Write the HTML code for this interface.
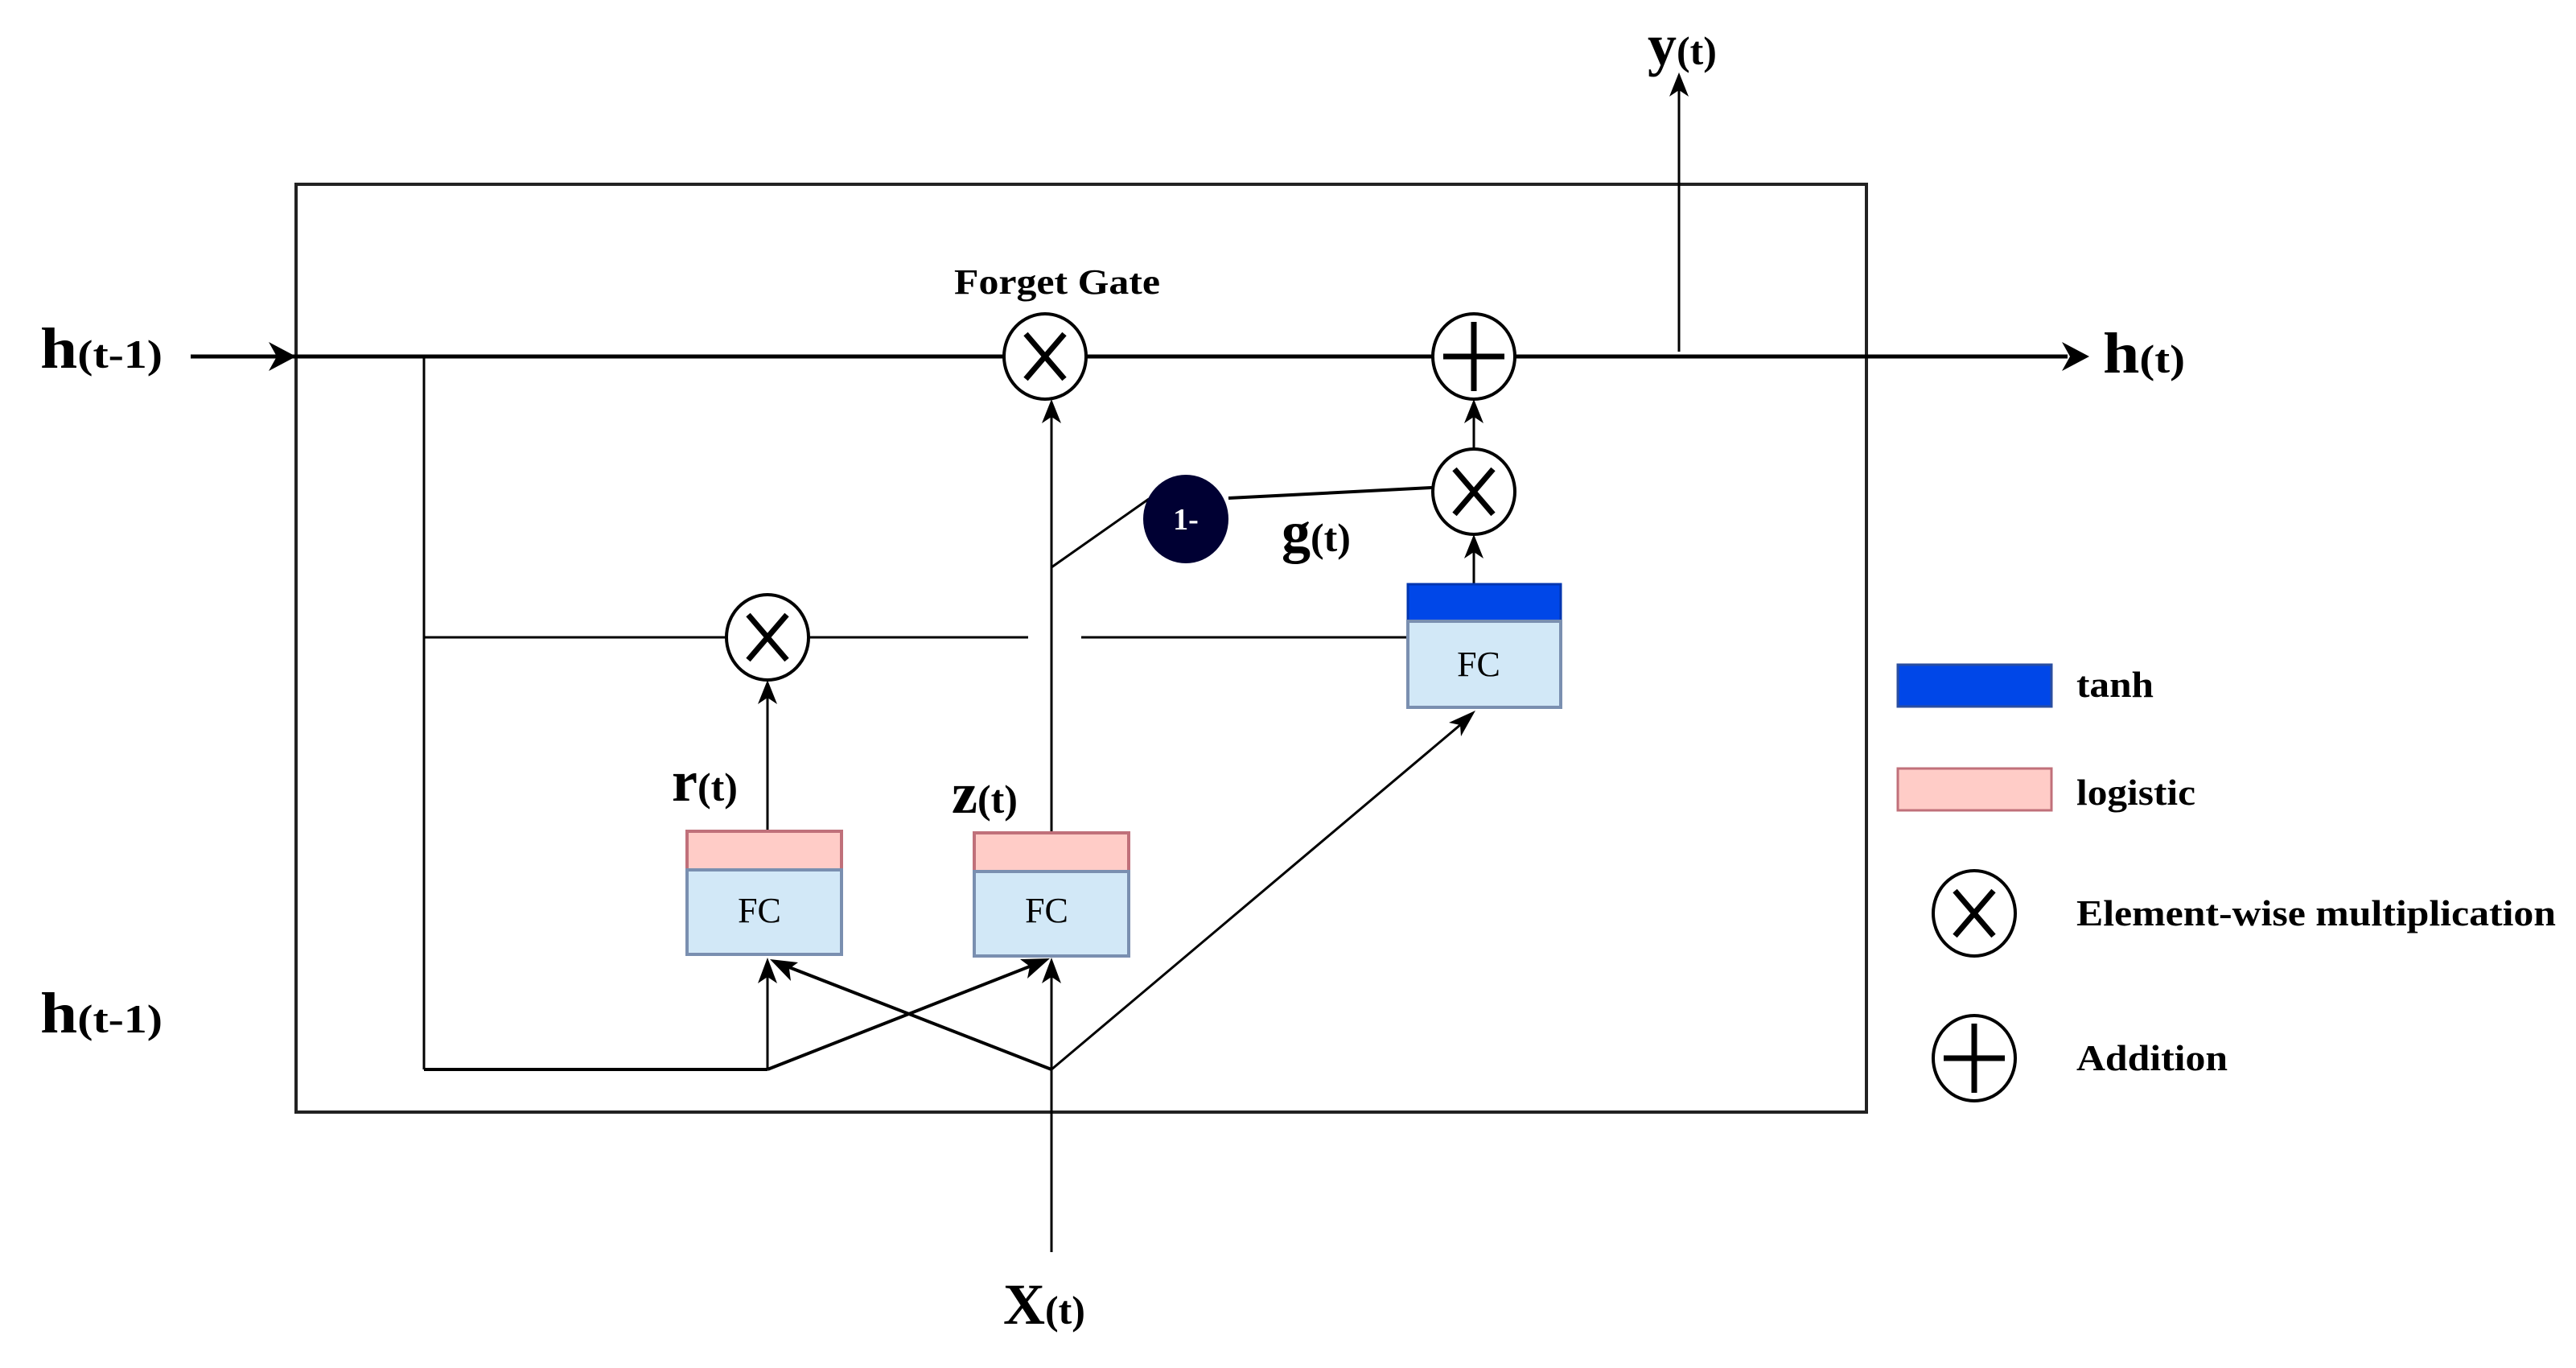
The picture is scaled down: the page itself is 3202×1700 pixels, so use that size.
<!DOCTYPE html>
<html><head><meta charset="utf-8"><style>
html,body{margin:0;padding:0;background:#fff;}
svg{display:block;}
text{font-family:"Liberation Serif",serif;fill:#000;}
.b{font-weight:bold;}
</style></head><body>
<svg width="3202" height="1700" viewBox="0 0 3202 1700" xmlns="http://www.w3.org/2000/svg">
<rect x="368" y="229" width="1952" height="1153" fill="none" stroke="#222" stroke-width="4"/>
<line x1="237" y1="443" x2="2570" y2="443" stroke="#000" stroke-width="5"/>
<polygon points="368,443 334,425 344,443 334,461" fill="#000"/>
<polygon points="2597,443 2563,425 2573,443 2563,461" fill="#000"/>
<line x1="2087" y1="437" x2="2087" y2="110" stroke="#000" stroke-width="3"/>
<polygon points="2087,90 2075,120 2087,112 2099,120" fill="#000"/>
<line x1="527" y1="443" x2="527" y2="1329" stroke="#000" stroke-width="3"/>
<line x1="527" y1="792" x2="1278" y2="792" stroke="#000" stroke-width="3"/>
<line x1="1344" y1="792" x2="1750" y2="792" stroke="#000" stroke-width="3"/>
<line x1="527" y1="1329" x2="954" y2="1329" stroke="#000" stroke-width="4"/>
<line x1="954" y1="1033" x2="954" y2="860" stroke="#000" stroke-width="3"/>
<polygon points="954,845 942,875 954,867 966,875" fill="#000"/>
<line x1="1307" y1="1033" x2="1307" y2="515" stroke="#000" stroke-width="3"/>
<polygon points="1307,496 1295,526 1307,518 1319,526" fill="#000"/>
<line x1="954" y1="1329" x2="954" y2="1205" stroke="#000" stroke-width="3"/>
<polygon points="954,1190 942,1222 954,1214 966,1222" fill="#000"/>
<line x1="954" y1="1329" x2="1290" y2="1197" stroke="#000" stroke-width="4"/>
<polygon points="1305,1191 1268,1192 1280,1201 1277,1216" fill="#000"/>
<line x1="1307" y1="1556" x2="1307" y2="1205" stroke="#000" stroke-width="3"/>
<polygon points="1307,1190 1295,1222 1307,1214 1319,1222" fill="#000"/>
<line x1="1307" y1="1329" x2="968" y2="1197" stroke="#000" stroke-width="4"/>
<polygon points="957,1192 983,1219 981,1204 992,1196" fill="#000"/>
<line x1="1307" y1="1329" x2="1822" y2="895" stroke="#000" stroke-width="3"/>
<polygon points="1834,883 1801,898 1815,901 1816,915" fill="#000"/>
<line x1="1832" y1="725" x2="1832" y2="680" stroke="#000" stroke-width="3"/>
<polygon points="1832,664 1820,694 1832,686 1844,694" fill="#000"/>
<line x1="1832" y1="557" x2="1832" y2="512" stroke="#000" stroke-width="3"/>
<polygon points="1832,496 1820,526 1832,518 1844,526" fill="#000"/>
<line x1="1527" y1="619" x2="1780" y2="606" stroke="#000" stroke-width="4"/>
<line x1="1307" y1="705" x2="1428" y2="620" stroke="#000" stroke-width="3"/>
<g stroke="#000" fill="#fff" stroke-width="4">
<ellipse cx="1299" cy="443" rx="51" ry="53"/>
<ellipse cx="1832" cy="443" rx="51" ry="53"/>
<ellipse cx="1832" cy="611" rx="51" ry="53"/>
<ellipse cx="954" cy="792" rx="51" ry="53"/>
<ellipse cx="2454" cy="1135" rx="51" ry="53"/>
<ellipse cx="2454" cy="1315" rx="51" ry="53"/>
</g>
<g stroke="#000" stroke-width="7">
<path d="M1275,415 L1323,471 M1323,415 L1275,471"/>
<path d="M1808,583 L1856,639 M1856,583 L1808,639"/>
<path d="M930,764 L978,820 M978,764 L930,820"/>
<path d="M2430,1107 L2478,1163 M2478,1107 L2430,1163"/>
<path d="M1832,400 L1832,486 M1794,443 L1870,443"/>
<path d="M2454,1272 L2454,1358 M2416,1315 L2492,1315"/>
</g>
<ellipse cx="1474" cy="645" rx="53" ry="55" fill="#000033"/>
<text class="b" x="1474" y="658" font-size="38" text-anchor="middle" style="fill:#fff">1-</text>
<rect x="854" y="1033" width="192" height="48" fill="#ffccc7" stroke="#c0707a" stroke-width="4"/>
<rect x="854" y="1081" width="192" height="105" fill="#d2e8f7" stroke="#7a8fb0" stroke-width="4"/>
<text x="944" y="1146" font-size="44" text-anchor="middle">FC</text>
<rect x="1211" y="1035" width="192" height="48" fill="#ffccc7" stroke="#c0707a" stroke-width="4"/>
<rect x="1211" y="1083" width="192" height="105" fill="#d2e8f7" stroke="#7a8fb0" stroke-width="4"/>
<text x="1301" y="1146" font-size="44" text-anchor="middle">FC</text>
<rect x="1750" y="726" width="190" height="46" fill="#0047e8" stroke="#0036b0" stroke-width="3"/>
<rect x="1750" y="772" width="190" height="107" fill="#d2e8f7" stroke="#7a8fb0" stroke-width="4"/>
<text x="1838" y="840" font-size="44" text-anchor="middle">FC</text>
<rect x="2359" y="826" width="191" height="52" fill="#0047e8" stroke="#2a4ea0" stroke-width="3"/>
<rect x="2359" y="955" width="191" height="52" fill="#ffccc7" stroke="#c0707a" stroke-width="3"/>
<text class="b" x="2581" y="866" font-size="46" textLength="96" lengthAdjust="spacingAndGlyphs">tanh</text>
<text class="b" x="2581" y="1000" font-size="46" textLength="148" lengthAdjust="spacingAndGlyphs">logistic</text>
<text class="b" x="2581" y="1150" font-size="46" textLength="596" lengthAdjust="spacingAndGlyphs">Element-wise multiplication</text>
<text class="b" x="2581" y="1330" font-size="46" textLength="188" lengthAdjust="spacingAndGlyphs">Addition</text>
<text class="b" x="1186" y="365" font-size="44" textLength="256" lengthAdjust="spacingAndGlyphs">Forget Gate</text>
<text class="b" x="50" y="457" font-size="72" textLength="152" lengthAdjust="spacingAndGlyphs">h<tspan font-size="50">(t-1)</tspan></text>
<text class="b" x="50" y="1283" font-size="72" textLength="152" lengthAdjust="spacingAndGlyphs">h<tspan font-size="50">(t-1)</tspan></text>
<text class="b" x="2614" y="463" font-size="72" textLength="102" lengthAdjust="spacingAndGlyphs">h<tspan font-size="50">(t)</tspan></text>
<text class="b" x="2048" y="80" font-size="72">y<tspan font-size="50">(t)</tspan></text>
<text class="b" x="835" y="995" font-size="72">r<tspan font-size="50">(t)</tspan></text>
<text class="b" x="1183" y="1010" font-size="72">z<tspan font-size="50">(t)</tspan></text>
<text class="b" x="1593" y="685" font-size="72">g<tspan font-size="50">(t)</tspan></text>
<text class="b" x="1247" y="1645" font-size="72">X<tspan font-size="50">(t)</tspan></text>
</svg>
</body></html>
